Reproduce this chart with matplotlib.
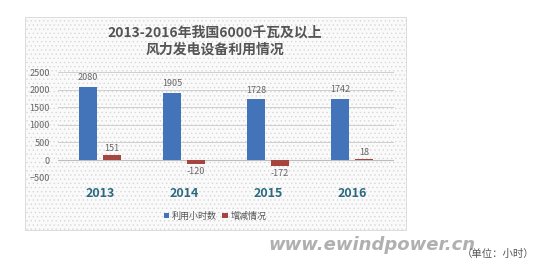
import matplotlib.pyplot as plt
import matplotlib.patches as mpatches
import numpy as np

plt.rcParams['font.family'] = ['Noto Sans CJK SC', 'DejaVu Sans']
plt.rcParams['hatch.linewidth'] = 0.5

years = ['2013', '2014', '2015', '2016']
hours = [2080, 1905, 1728, 1742]
change = [151, -120, -172, 18]
yticks = [-500, 0, 500, 1000, 1500, 2000, 2500]

blue = '#4373b8'
red = '#a5453f'

fig = plt.figure(figsize=(5.45, 2.8), dpi=100)

# dotted chart box
box = mpatches.Rectangle((25 / 545, 1 - 230 / 280), 381 / 545, 213 / 280,
                         transform=fig.transFigure, facecolor='#fafafa',
                         edgecolor='#d8d8d8', hatch='....', lw=0.6, zorder=-5)
fig.patches.append(box)

ax = fig.add_axes([58 / 545, 1 - 177.6 / 280, 336 / 545, 105.6 / 280])
ax.set_zorder(2)
ax.patch.set_alpha(0)
x = np.arange(len(years))
w = 0.22
b1 = ax.bar(x - 0.14, hours, w, color=blue, zorder=3, label='利用小时数')
b2 = ax.bar(x + 0.14, change, w, color=red, zorder=3, label='增减情况')

ax.set_ylim(-500, 2500)
ax.set_xlim(-0.5, 3.5)
ax.set_yticks(yticks)
ax.yaxis.grid(True, color='#cfcfcf', lw=0.7, zorder=1)
ax.tick_params(axis='y', length=0, labelsize=6.5, labelcolor='#666666', pad=6)
ax.set_xticks([])
for s in ax.spines.values():
    s.set_visible(False)
ax.axhline(0, color='#bdbdbd', lw=0.8, zorder=2)

for xi, v in zip(x, hours):
    ax.text(xi - 0.14, v + 130, str(v), ha='center', va='bottom',
            fontsize=6.5, color='#666666')
for xi, v in zip(x, change):
    if v >= 0:
        ax.text(xi + 0.14, v + 60, str(v), ha='center', va='bottom',
                fontsize=6.5, color='#666666')
    else:
        ax.text(xi + 0.14, v - 90, str(v), ha='center', va='top',
                fontsize=6.5, color='#666666')

for xi, yr in zip(x, years):
    ax.text(xi, -940, yr, ha='center', va='center', fontsize=9,
            fontweight='bold', color='#2b6a80')

fig.text(215 / 545, 1 - 41 / 280, '2013-2016年我国6000千瓦及以上\n风力发电设备利用情况',
         ha='center', va='center', fontsize=10, fontweight='bold',
         color='#555555', linespacing=1.3)

fig.legend(handles=[b1, b2], loc='center', bbox_to_anchor=(215 / 545, 1 - 216 / 280),
           ncol=2, frameon=False, fontsize=6.5, handlelength=0.6, handleheight=0.6,
           handletextpad=0.3, columnspacing=0.6, labelcolor='#555555')

fig.text(372 / 545, 1 - 245 / 280, 'www.ewindpower.cn', ha='center', va='center',
         fontsize=13, fontweight='bold', style='italic', color='#b0b0b0',
         family='DejaVu Sans')
fig.text(498 / 545, 1 - 254 / 280, '（单位：小时）', ha='center', va='center',
         fontsize=7.5, color='#555555')

fig.savefig('out.png', dpi=100)
